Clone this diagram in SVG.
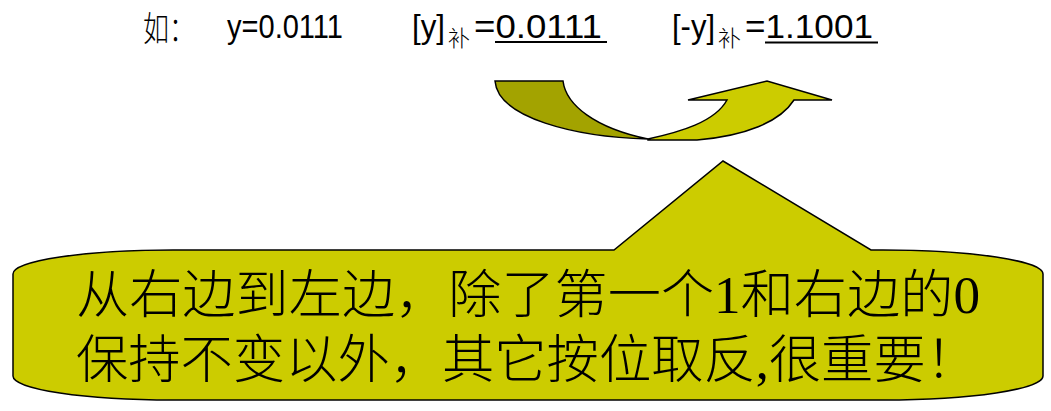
<svg xmlns="http://www.w3.org/2000/svg" width="1051" height="411" viewBox="0 0 1051 411">
<style>
.lat{font-family:"Liberation Sans",Arial,sans-serif;font-size:33px;fill:#000}
.cjk{font-family:"Noto Sans CJK SC",sans-serif;fill:#000;font-weight:300}
.big{font-family:"Liberation Serif","Noto Sans CJK SC",serif;font-size:52px;fill:#000;font-weight:300}
.ul{stroke:#000;stroke-width:2}
.edge{stroke:#000;stroke-width:1.5;stroke-linejoin:miter}
</style>
<rect width="1051" height="411" fill="#fff"/>
<g id="formula">
<text class="cjk" x="143" y="41" style="font-size:34px" textLength="52" lengthAdjust="spacingAndGlyphs">如：</text>
<text class="lat" x="227" y="38" textLength="116" lengthAdjust="spacingAndGlyphs">y=0.0111</text>
<text class="lat" x="412" y="38" textLength="33" lengthAdjust="spacingAndGlyphs">[y]</text>
<text class="cjk" x="448" y="46" style="font-size:22px" textLength="22" lengthAdjust="spacingAndGlyphs">补</text>
<text class="lat" x="474" y="38" textLength="128" lengthAdjust="spacingAndGlyphs">=0.0111</text>
<line class="ul" x1="495" y1="42" x2="607" y2="42"/>
<text class="lat" x="672" y="38" textLength="43" lengthAdjust="spacingAndGlyphs">[-y]</text>
<text class="cjk" x="718" y="46" style="font-size:22px" textLength="23" lengthAdjust="spacingAndGlyphs">补</text>
<text class="lat" x="745" y="38" textLength="128" lengthAdjust="spacingAndGlyphs">=1.1001</text>
<line class="ul" x1="765" y1="42.5" x2="878" y2="42.5"/>
</g>
<g id="curved-arrow">
<path class="edge" fill="#CCCC00" d="M648,139 C680,132 715,122 727,100 L688,100 L767,81 L832,100 L794,100 C780,122 745,136 697,140 L648,140 Z"/>
<path class="edge" fill="#A3A300" d="M495,81 L563,81 C566,105 595,128 648,139 C575,137 498,118 495,81 Z"/>
</g>
<g id="callout">
<path class="edge" fill="#CCCC00" d="M173,250 L614,250 L723,161 L871,250 L883,250 A160,24 0 0 1 1043,274 L1043,376 A160,24 0 0 1 883,400 L173,400 A160,24 0 0 1 13,376 L13,274 A160,24 0 0 1 173,250 Z"/>
<text class="big" x="76" y="313" textLength="904" lengthAdjust="spacingAndGlyphs">从右边到左边，除了第一个1和右边的0</text>
<text class="big" x="76" y="378" textLength="902" lengthAdjust="spacingAndGlyphs">保持不变以外，其它按位取反,很重要！</text>
</g>
</svg>
